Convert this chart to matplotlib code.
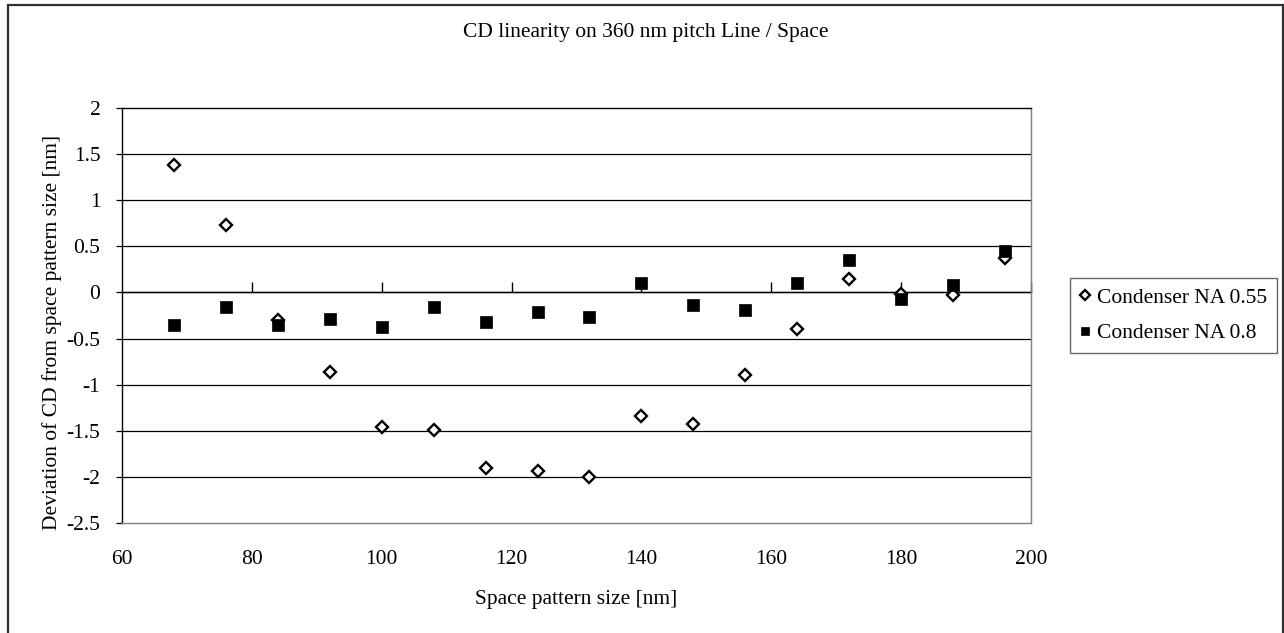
import numpy as np
import matplotlib.pyplot as plt
from matplotlib.patches import Rectangle

# CD linearity on 360 nm pitch L/S, two condenser NA settings

space_size = [68, 76, 84, 92, 100, 108, 116, 124, 132, 140, 148, 156, 164, 172, 180, 188, 196]
dev_na055 = [1.38, 0.73, -0.30, -0.86, -1.46, -1.49, -1.90, -1.94, -2.00, -1.34, -1.43,
             -0.90, -0.40, 0.15, -0.02, -0.03, 0.37]
dev_na08 = [-0.35, -0.16, -0.35, -0.29, -0.37, -0.16, -0.32, -0.21, -0.27, 0.10, -0.14,
            -0.19, 0.10, 0.35, -0.07, 0.08, 0.45]

x_ticks = [60, 80, 100, 120, 140, 160, 180, 200]
y_ticks = [-2.5, -2, -1.5, -1, -0.5, 0, 0.5, 1, 1.5, 2]
y_ticklabels = ['-2.5', '-2', '-1.5', '-1', '-0.5', '0', '0.5', '1', '1.5', '2']

plt.rcParams['font.family'] = ['Liberation Serif', 'DejaVu Serif']
FS = 15.5

W, H = 1284, 633
fig = plt.figure(figsize=(W / 100, H / 100), dpi=100)
ax = fig.add_axes([122 / W, 1 - 523 / H, (1031 - 122) / W, (523 - 108) / H])

ax.set_xlim(60, 200)
ax.set_ylim(-2.5, 2)

# horizontal gridlines
for v in y_ticks[1:-1]:
    ax.axhline(v, color='black', lw=0.9, zorder=1)

ax.plot(space_size, dev_na055, linestyle='none', marker='D', ms=6.6, mfc='white',
        mec='black', mew=1.7, label='Condenser NA 0.55', zorder=3)
ax.plot(space_size, dev_na08, linestyle='none', marker='s', ms=8.3, mfc='black',
        mec='black', mew=0.5, label='Condenser NA 0.8', zorder=3)

ax.set_xticks(x_ticks)
ax.set_xticklabels([str(t) for t in x_ticks], fontsize=FS)
ax.set_yticks(y_ticks)
ax.set_yticklabels(y_ticklabels, fontsize=FS)
ax.tick_params(axis='x', length=0, pad=19.5)
ax.tick_params(axis='y', direction='out', length=4, width=0.9, pad=11.5)

ax.spines['left'].set_color('black')
ax.spines['top'].set_color('black')
ax.spines['right'].set_color('#7f7f7f')
ax.spines['bottom'].set_color('#7f7f7f')
for s in ax.spines.values():
    s.set_linewidth(1.0)

# category axis crossing at y = 0, ticks pointing up
zero_pos = (0 - (-2.5)) / (2 - (-2.5))
sec = ax.secondary_xaxis(zero_pos)
sec.set_xticks(x_ticks[1:])
sec.tick_params(axis='x', which='both', top=True, bottom=False, direction='out',
                length=7, width=1.0, labeltop=False, labelbottom=False)
for s in sec.spines.values():
    s.set_linewidth(1.0)
    s.set_color('black')

ax.set_xlabel('Space pattern size [nm]', fontsize=FS, labelpad=15)
ax.set_ylabel('Deviation of CD from space pattern size [nm]', fontsize=FS, labelpad=3)
ax.yaxis.label.set_y(0.46)
fig.text(0.503, 1 - 33 / H, 'CD linearity on 360 nm pitch Line / Space', fontsize=FS,
         ha='center', va='center')

leg = ax.legend(loc='upper left', bbox_to_anchor=(1070 / W, 1 - 278 / H),
                bbox_transform=fig.transFigure, borderaxespad=0, fontsize=FS,
                frameon=True, fancybox=False, handlelength=0.5, handletextpad=0.3,
                labelspacing=0.72, borderpad=0.45, markerscale=0.75)
leg.get_frame().set_edgecolor('#404040')
leg.get_frame().set_linewidth(1.0)

# outer chart border (left, top, right)
fig.add_artist(Rectangle((8 / W, -0.05), (1283 - 8) / W, 1.05 - 5 / H,
                         transform=fig.transFigure, fill=False,
                         edgecolor='#303030', lw=1.6))

fig.savefig('out.png', dpi=100)
